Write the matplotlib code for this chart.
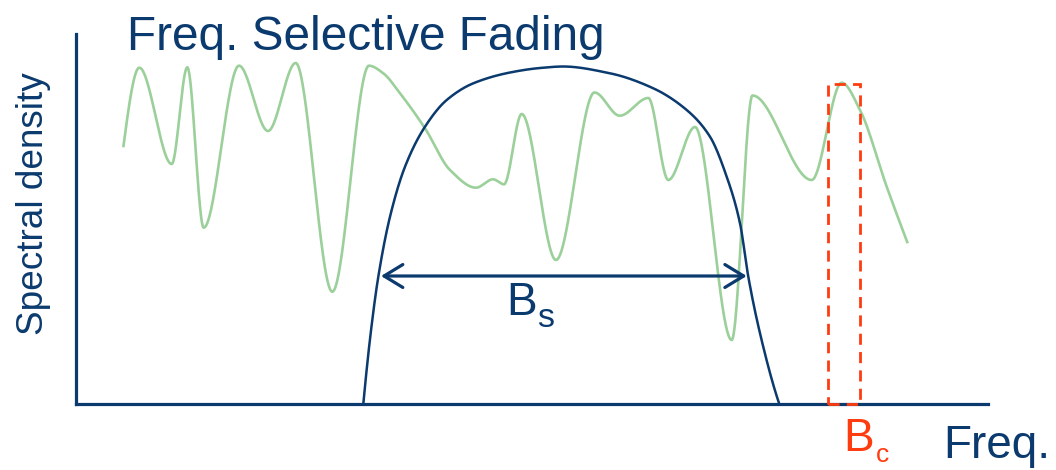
import numpy as np
import matplotlib
matplotlib.use("Agg")
import matplotlib.pyplot as plt
from matplotlib.patches import Rectangle

plt.rcParams["font.family"] = ["Liberation Sans", "DejaVu Sans"]

# Channel frequency response (fading), sampled at its turning points
channel_f = [47.3, 63.3, 95.7, 111.3, 127.7, 163.0, 192.0, 219.7, 256.3, 293.0,
             307.3, 324.0, 349.0, 374.0, 400.0, 417.0, 428.0, 445.7, 480.0, 518.5,
             543.7, 572.3, 592.3, 619.0, 655.7, 676.5, 735.7, 765.7, 784.0, 810.7,
             831.7]
channel_g = [256.7, 336.3, 240.0, 336.7, 176.3, 338.3, 273.0, 341.0, 112.3, 338.3,
             330.7, 310.7, 275.7, 234.0, 216.3, 224.7, 219.7, 290.0, 144.0, 311.5,
             288.3, 306.0, 224.0, 277.0, 64.0, 308.5, 224.0, 321.3, 294.0, 217.3,
             160.7]

# Transmitted signal spectrum
signal_f = [287.3, 294.7, 302.3, 314.0, 329.0, 349.0, 370.7, 397.3, 434.0, 464.0,
            487.0, 534.0, 577.3, 610.7, 634.0, 650.7, 664.0, 672.3, 684.0, 703.3]
signal_s = [0.0, 71.0, 127.3, 187.3, 237.3, 277.3, 304.0, 320.7, 331.5, 336.0,
            337.5, 330.7, 315.7, 294.0, 267.3, 227.3, 180.7, 127.3, 70.7, 0.0]

# Signal bandwidth B_s (arrow) and coherence bandwidth B_c (dashed box)
bs_edges = [305.0, 670.7]
bs_level = 128.0
bc_edges = [751.7, 784.0]
bc_height = 320.0

NAVY = "#0B3A6E"
GREEN = "#9BD09B"
RED = "#FF3C0F"

W, H = 1056, 470


def pchip(x, y, xs):
    x = np.asarray(x, float)
    y = np.asarray(y, float)
    h = np.diff(x)
    d = np.diff(y) / h
    n = len(x)
    m = np.zeros(n)
    for k in range(1, n - 1):
        if d[k - 1] * d[k] > 0:
            w1 = 2 * h[k] + h[k - 1]
            w2 = h[k] + 2 * h[k - 1]
            m[k] = (w1 + w2) / (w1 / d[k - 1] + w2 / d[k])

    def end(h0, h1, d0, d1):
        v = ((2 * h0 + h1) * d0 - h0 * d1) / (h0 + h1)
        if np.sign(v) != np.sign(d0):
            return 0.0
        if np.sign(d0) != np.sign(d1) and abs(v) > 3 * abs(d0):
            return 3 * d0
        return v

    m[0] = end(h[0], h[1], d[0], d[1])
    m[-1] = end(h[-1], h[-2], d[-1], d[-2])
    k = np.clip(np.searchsorted(x, xs) - 1, 0, n - 2)
    t = (xs - x[k]) / h[k]
    h00 = 2 * t**3 - 3 * t**2 + 1
    h10 = t**3 - 2 * t**2 + t
    h01 = -2 * t**3 + 3 * t**2
    h11 = t**3 - t**2
    return h00 * y[k] + h10 * h[k] * m[k] + h01 * y[k + 1] + h11 * h[k] * m[k + 1]


def fpos(px, py):
    return px / W, 1 - py / H


fig = plt.figure(figsize=(W / 100, H / 100), dpi=100)
ax = fig.add_axes([76 / W, 66 / H, 912 / W, 370 / H])
ax.set_xlim(0, 912)
ax.set_ylim(0, 370)
ax.set_xticks([])
ax.set_yticks([])
for side in ("top", "right"):
    ax.spines[side].set_visible(False)
for side in ("left", "bottom"):
    ax.spines[side].set_color(NAVY)
    ax.spines[side].set_linewidth(2.3)

xs = np.linspace(channel_f[0], channel_f[-1], 2000)
ax.plot(xs, pchip(channel_f, channel_g, xs), color=GREEN, lw=1.9,
        solid_capstyle="butt", zorder=2)

xs2 = np.linspace(signal_f[0], signal_f[-1], 2000)
ax.plot(xs2, pchip(signal_f, signal_s, xs2), color=NAVY, lw=1.8, zorder=3)

ax.annotate("", xy=(bs_edges[1], bs_level), xytext=(bs_edges[0], bs_level),
            arrowprops=dict(arrowstyle="<->,head_length=0.9,head_width=0.55",
                            color=NAVY, lw=2.3, shrinkA=0, shrinkB=0,
                            mutation_scale=15),
            zorder=4)

ax.add_patch(Rectangle((bc_edges[0], 0), bc_edges[1] - bc_edges[0], bc_height,
                       fill=False, edgecolor=RED, lw=2.0,
                       linestyle=(0, (4, 2.6)), zorder=4, clip_on=False))

fig.text(*fpos(127, 50), "Freq. Selective Fading", color=NAVY,
         fontsize=34.4, ha="left", va="baseline")
fig.text(*fpos(34, 203.5), "Spectral density", color=NAVY, fontsize=26.6,
         rotation=90, ha="center", va="center")

fig.text(*fpos(506.5, 315), "B", color=NAVY, fontsize=33, ha="left", va="baseline")
fig.text(*fpos(537, 326.7), "s", color=NAVY, fontsize=24.5, ha="left", va="baseline")

fig.text(*fpos(843.5, 450.7), "B", color=RED, fontsize=33, ha="left", va="baseline")
fig.text(*fpos(876, 462), "c", color=RED, fontsize=19, ha="left", va="baseline")

fig.text(*fpos(943.5, 458), "Freq.", color=NAVY, fontsize=33, ha="left", va="baseline")

fig.savefig("out.png", dpi=100)
